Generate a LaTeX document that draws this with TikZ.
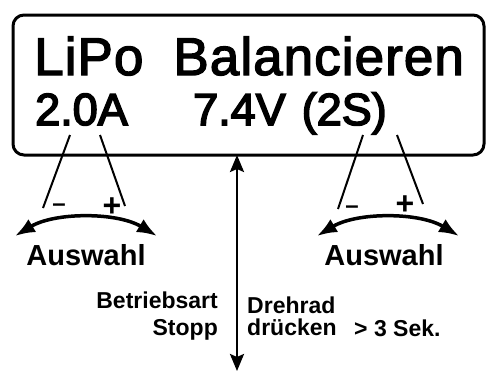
\documentclass[tikz,border=0pt]{standalone}
\usepackage{fontspec}
\setmainfont{Liberation Sans}
\newfontfamily\titlefont[FakeBold=2.5,LetterSpace=2]{Liberation Sans}
\newfontfamily\rowfont[FakeBold=3.5]{Liberation Sans}
\usetikzlibrary{arrows.meta}
\begin{document}
\begin{tikzpicture}[x=1pt,y=-1pt,
  lbl/.style={inner sep=0pt,font=\fontsize{23}{25}\selectfont\bfseries},
  aus/.style={inner sep=0pt,anchor=base,font=\fontsize{29}{31}\selectfont\bfseries},
  big/.style={inner sep=0pt,anchor=base west,font=\titlefont\fontsize{53}{58}\selectfont},
  mid/.style={inner sep=0pt,anchor=base west,font=\rowfont\fontsize{45}{50}\selectfont},
  ptr/.style={line width=2pt},
  sel/.style={line width=3.5pt,{Latex[length=20pt,width=15pt]}-{Latex[length=20pt,width=15pt]}},
  minus/.style={inner sep=0pt,anchor=base,font=\fontsize{24}{26}\selectfont\bfseries},
  plus/.style={inner sep=0pt,anchor=base,font=\fontsize{32}{34}\selectfont\bfseries}]
\useasboundingbox (0,0) rectangle (488,372);
\draw[line width=3pt,rounded corners=11pt] (13,15) rectangle (484,155);
\node[big] (title) at (34,75) {LiPo\hspace{30pt}Balancieren};
\node[mid] (amp) at (35,125) {2.0A};
\node[mid] (volt) at (193,125) {7.4V\hspace{16pt}(2S)};
% left pointers
\coordinate (la1) at (70,135); \coordinate (lb1) at (43,208);
\coordinate (la2) at (100,135); \coordinate (lb2) at (125,206);
\draw[ptr] (la1) -- (lb1);
\draw[ptr] (la2) -- (lb2);
\node[minus] (lm) at (59,211) {–};
\node[plus] (lp) at (112,216) {+};
\coordinate (lL) at (15,236); \coordinate (lR) at (157,236);
\draw[sel] (lL) .. controls (55,212) and (117,212) .. (lR);
\node[aus] (aus1) at (86,265) {Auswahl};
% right pointers
\coordinate (ra1) at (363,135); \coordinate (rb1) at (338,209);
\coordinate (ra2) at (397,135); \coordinate (rb2) at (423,204);
\draw[ptr] (ra1) -- (rb1);
\draw[ptr] (ra2) -- (rb2);
\node[minus] (rm) at (352,213) {–};
\node[plus] (rp) at (405,214) {+};
\coordinate (rL) at (317,236); \coordinate (rR) at (459,236);
\draw[sel] (rL) .. controls (357,212) and (419,212) .. (rR);
\node[aus] (aus2) at (384,265) {Auswahl};
% vertical arrow
\coordinate (vt) at (237,155); \coordinate (vb) at (237,371);
\draw[line width=2.5pt,{Stealth[length=17pt,width=14pt,inset=3pt]}-{Stealth[length=17pt,width=14pt,inset=3pt]}] (vt) -- (vb);
\node[lbl,anchor=base east] (b1) at (218,308) {Betriebsart};
\node[lbl,anchor=base east] (b2) at (218,335) {Stopp};
\node[lbl,anchor=base west] (d1) at (247,313) {Drehrad};
\node[lbl,anchor=base west] (d2) at (247,335) {drücken};
\node[lbl,anchor=base west] (d3) at (354,336) {> 3 Sek.};
\end{tikzpicture}
\end{document}
